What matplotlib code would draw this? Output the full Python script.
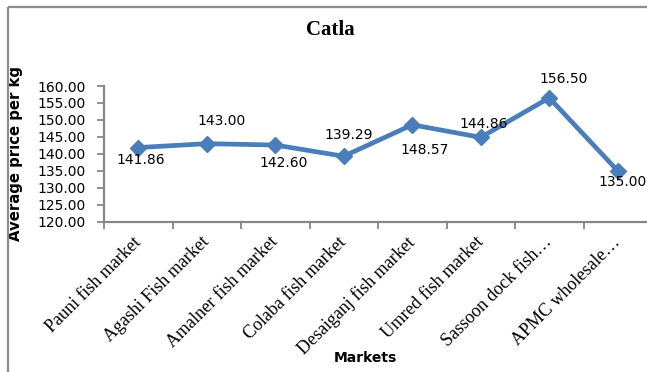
import matplotlib
matplotlib.use("Agg")
import matplotlib.pyplot as plt
from matplotlib.lines import Line2D
from matplotlib.ticker import FixedLocator, NullFormatter

markets = ["Pauni fish market", "Agashi Fish market", "Amalner fish market",
           "Colaba fish market", "Desaiganj fish market", "Umred fish market",
           "Sassoon dock fish…", "APMC wholesale…"]
prices = [141.86, 143.00, 142.60, 139.29, 148.57, 144.86, 156.50, 135.00]
y_ticks = [120, 125, 130, 135, 140, 145, 150, 155, 160]

# label placement (offset in pixels from each marker)
label_offsets = [(3, -12), (15, 23), (8, -18), (5, 21),
                 (12, -25), (3, 13), (14, 19), (5, -11)]

W, H = 647, 372
fig = plt.figure(figsize=(W / 100, H / 100), dpi=100)

line_col = "#4A7EBB"
axis_col = "#868686"
frame_col = "#8C8C8C"

# outer chart frame (top and left edges; the rest runs off the canvas)
fx, fy = 8 / W, 1 - 7 / H
fig.lines.append(Line2D([fx, (W - 0.5) / W], [fy, fy], transform=fig.transFigure,
                        color=frame_col, linewidth=1.6, solid_capstyle="butt"))
fig.lines.append(Line2D([fx, fx], [0.5 / H, fy], transform=fig.transFigure,
                        color=frame_col, linewidth=1.6, solid_capstyle="butt"))

left, right = 104 / W, 652 / W
bottom, top = 1 - 221.7 / H, 1 - 86 / H
ax = fig.add_axes([left, bottom, right - left, top - bottom])
ax.set_facecolor("none")

x = list(range(len(markets)))
ax.plot(x, prices, color=line_col, linewidth=3.4, marker="D",
        markersize=8.5, markerfacecolor=line_col, markeredgecolor=line_col,
        clip_on=False, zorder=3)

for xi, v, (dx, dy) in zip(x, prices, label_offsets):
    ax.annotate(f"{v:.2f}", (xi, v), xytext=(dx, dy),
                textcoords="offset pixels", ha="center", va="center",
                fontsize=10, family="DejaVu Sans", color="black", zorder=4)

ax.set_xlim(-0.5, len(markets) - 0.5)
ax.set_ylim(120, 160)
ax.set_yticks(y_ticks)
ax.set_yticklabels([f"{t:.2f}" for t in y_ticks], fontsize=10,
                   family="DejaVu Sans")

ax.set_xticks(x)
ax.set_xticklabels(markets, rotation=45, ha="right", va="center",
                   rotation_mode="anchor", fontsize=13,
                   family="Liberation Serif")
ax.tick_params(axis="x", which="major", length=0, pad=13)
ax.xaxis.set_minor_locator(FixedLocator([i - 0.5 for i in range(len(markets) + 1)]))
ax.xaxis.set_minor_formatter(NullFormatter())
ax.tick_params(axis="x", which="minor", length=5, width=1.3, color=axis_col,
               direction="out")
ax.tick_params(axis="y", length=5, width=1.3, color=axis_col, pad=8,
               direction="out")

for s in ("top", "right"):
    ax.spines[s].set_visible(False)
for s in ("left", "bottom"):
    ax.spines[s].set_color(axis_col)
    ax.spines[s].set_linewidth(1.6)

ax.set_ylabel("Average price per kg", fontsize=10.7, fontweight="bold",
              family="DejaVu Sans")
ax.yaxis.set_label_coords(-0.148, 0.5)

fig.text(330 / W, 1 - 30 / H, "Catla", ha="center", va="center",
         fontsize=15, fontweight="bold", family="Liberation Serif")
fig.text(365 / W, 1 - 358 / H, "Markets", ha="center", va="center",
         fontsize=10, fontweight="bold", family="DejaVu Sans")

fig.savefig("out.png", dpi=100)
